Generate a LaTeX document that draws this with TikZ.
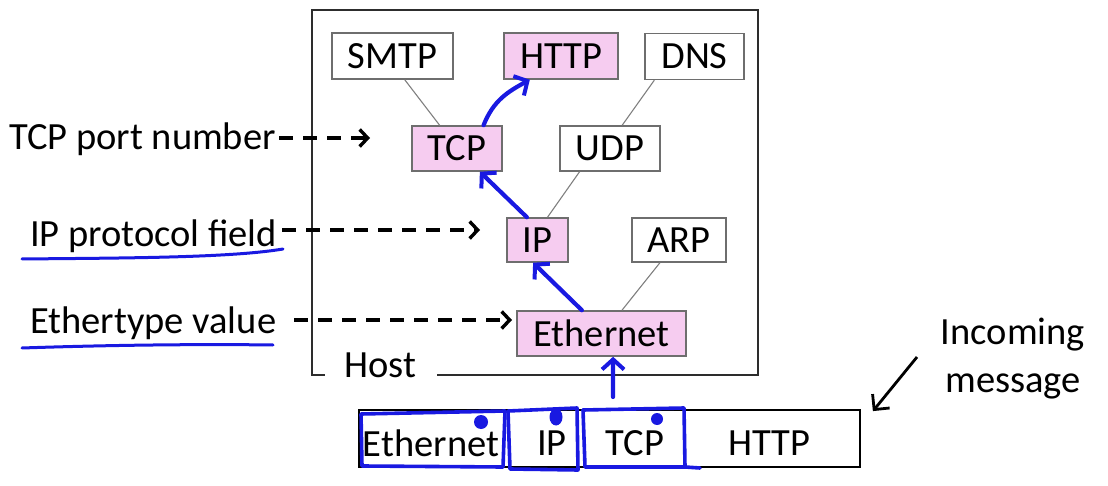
\documentclass[tikz,border=0pt]{standalone}
\usepackage{fontspec}
\setmainfont{Carlito}
\usetikzlibrary{arrows.meta,calc}
\definecolor{pinkfill}{RGB}{246,204,240}
\definecolor{inkblue}{RGB}{25,25,225}
\definecolor{boxline}{RGB}{110,110,110}
\definecolor{hostline}{RGB}{45,45,45}
\begin{document}
\begin{tikzpicture}[x=1pt,y=-1pt,
  font=\fontsize{38.5pt}{48pt}\selectfont,
  protobox/.style={draw=boxline, line width=1.5pt, fill=white, inner sep=0pt, minimum height=46pt},
  hotbox/.style={protobox, fill=pinkfill},
  link/.style={draw=gray, line width=1.1pt},
  ink/.style={draw=inkblue, line width=4.2pt, line cap=round, line join=round},
  inkarrow/.style={ink, -{Straight Barb[length=10pt,width=22pt,line width=4pt]}},
  dasharrow/.style={draw=black, line width=3.4pt, dash pattern=on 14pt off 10pt, -{Straight Barb[length=8pt,width=17pt,line width=3.4pt]}},
  plainarrow/.style={draw=black, line width=2.8pt, -{Straight Barb[length=11pt,width=22pt,line width=2.8pt]}},
  lbl/.style={inner sep=0pt}]
\useasboundingbox (0,0) rectangle (1108,486);
\fill[white] (0,0) rectangle (1108,486);

% host frame
\node[lbl, anchor=base] (host) at (380,377) {Host};
\draw[draw=hostline, line width=2.6pt] (437,375) -- (758,375) -- (758,10) -- (312,10) -- (312,375) -- (325,375);

% protocol boxes
\node[protobox, minimum width=121pt] (smtp) at (392.5,56) {SMTP};
\node[hotbox, minimum width=114pt] (http) at (561,56) {HTTP};
\node[protobox, minimum width=99pt] (dns) at (694.5,56.5) {DNS};
\node[hotbox, minimum width=90pt, minimum height=45pt] (tcp) at (457,148.5) {TCP};
\node[protobox, minimum width=100pt, minimum height=45pt] (udp) at (610,148.5) {UDP};
\node[hotbox, minimum width=61pt, minimum height=44pt] (ip) at (537.5,240) {IP};
\node[protobox, minimum width=94pt, minimum height=44pt] (arp) at (679,240) {ARP};
\node[hotbox, minimum width=169pt, minimum height=45pt] (eth) at (601.5,333.5) {Ethernet};

% gray tree links
\draw[link] ($(smtp.south west)!0.6!(smtp.south east)$) -- ($(tcp.north west)!0.31!(tcp.north east)$);
\draw[link] ($(dns.south west)!0.1!(dns.south east)$) -- ($(udp.north west)!0.62!(udp.north east)$);
\draw[link] ($(udp.south west)!0.2!(udp.south east)$) -- ($(ip.north west)!0.66!(ip.north east)$);
\draw[link] ($(arp.south west)!0.3!(arp.south east)$) -- ($(eth.north west)!0.62!(eth.north east)$);

% left labels and dashed arrows
\node[lbl, anchor=base west] (lbltcp) at (9,150) {TCP port number};
\node[lbl, anchor=base west] (lblip) at (30,247) {IP protocol field};
\node[lbl, anchor=base west] (lbleth) at (30,333) {Ethertype value};
\coordinate (tcpin) at (370,138);
\coordinate (ipin) at (480,230);
\coordinate (ethin) at (512,320);
\draw[dasharrow, shorten <=3pt] (lbltcp.east |- tcpin) -- (tcpin);
\draw[dasharrow, shorten <=5pt] (lblip.east |- ipin) -- (ipin);
\draw[dasharrow, shorten <=18pt] (lbleth.east |- ethin) -- (ethin);

% blue underlines
\draw[ink, line width=3pt] (22,259) .. controls (120,258) and (230,258) .. (283,249);
\draw[ink, line width=3pt] (22,348) .. controls (110,345) and (200,344) .. (273,345);

% packet
\node[draw, line width=1.8pt, inner sep=0pt, minimum width=501pt, minimum height=57pt] (packet) at (609.5,438.5) {};
\node[lbl] (fEth) at (431,443) {Ethernet};
\node[lbl] (fIP) at (552,443) {IP};
\node[lbl] (fTCP) at (635,443) {TCP};
\node[lbl] (fHTTP) at (769,443) {HTTP};

% blue hand-drawn field boxes and dots
\draw[ink, line width=3.6pt] (361,414) -- (505,411) -- (503,467) -- (362,466) -- cycle;
\draw[ink, line width=3.6pt] (508,411) -- (577,408) -- (578,470) -- (510,469) -- cycle;
\draw[ink, line width=3.6pt] (583,410) -- (684,408) -- (685,467) -- (700,468);
\draw[ink, line width=3.6pt] (583,410) -- (585,467) -- (685,467);
\fill[inkblue] (481,422) circle (7pt);
\fill[inkblue] (556,417) ellipse (6.5pt and 8.5pt);
\fill[inkblue] (657,419) circle (6pt);

% blue path arrows
\coordinate (pktup) at (613,397);
\draw[inkarrow] (pktup) -- ($(eth.south west)!0.568!(eth.south east)$);
\draw[inkarrow] ($(eth.north west)!0.385!(eth.north east)$) -- ($(ip.south west)!0.43!(ip.south east)$);
\draw[inkarrow] ($(ip.north west)!0.33!(ip.north east)$) -- ($(tcp.south west)!0.75!(tcp.south east)$);
\draw[inkarrow] ($(tcp.north west)!0.79!(tcp.north east)$) .. controls +(10,-25) and +(-22,12) .. ($(http.south west)!0.23!(http.south east)$);

% incoming message
\node[lbl, align=center, anchor=north] (inc) at (1013,318) {Incoming\\message};
\coordinate (incstart) at (917,357);
\draw[plainarrow] (incstart) -- ($(packet.north east)+(12,2)$);
\end{tikzpicture}
\end{document}
